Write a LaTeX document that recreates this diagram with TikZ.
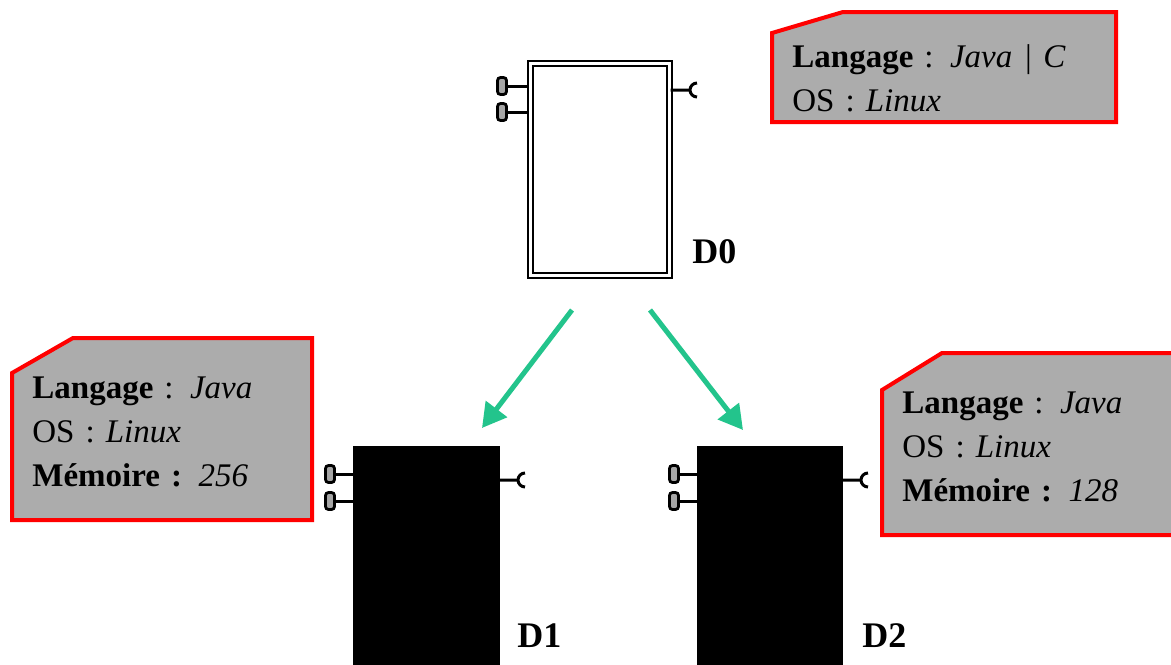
\documentclass[tikz,border=0pt]{standalone}
\usepackage{fontspec}
\setmainfont{Liberation Serif}
\usepackage{tikz}
\usetikzlibrary{arrows.meta}
\definecolor{flowgreen}{RGB}{35,196,140}
\definecolor{notegray}{RGB}{172,172,172}

\begin{document}
\begin{tikzpicture}[x=0.5pt, y=-0.5pt,
        comp/.style={draw, fill=black, line width=0.6pt, inner sep=0pt,
                     minimum width=72.5pt, minimum height=126.5pt},
        comp0/.style={draw, double=white, double distance=1.2pt, line width=1.2pt,
                      inner sep=0pt, minimum width=69.5pt, minimum height=106pt},
        plug/.style={draw, fill=gray!70, line width=1.4pt, rounded corners=1.5pt,
                     inner sep=0pt, minimum width=4.5pt, minimum height=8.5pt},
        port/.style={line width=1.5pt},
        flow/.style={draw=flowgreen, line width=2.5pt,
                     -{Triangle[length=12pt, width=13pt]}},
        note/.style={draw=red, fill=notegray, line width=2pt, line join=miter},
        info/.style={inner sep=0pt, text width=150pt, align=left,
                     font=\fontsize{16.5}{22}\selectfont},
        dlabel/.style={inner sep=0pt, anchor=base west,
                       font=\fontsize{18}{20}\selectfont\bfseries}
                            ]
        \useasboundingbox (0,0) rectangle (1171,664);
        % notes
        \draw[note] (772,33) -- (843,12) -- (1116,12) -- (1116,122) -- (772,122) -- cycle;
        \node[info, anchor=base west] (n0) at (792,67)
            {\textbf{Langage} : \textit{Java | C}\\OS : \textit{Linux}};
        \draw[note] (12,373) -- (73,338) -- (312,338) -- (312,520) -- (12,520) -- cycle;
        \node[info, anchor=base west] (n1) at (32,398)
            {\textbf{Langage} : \textit{Java}\\OS : \textit{Linux}\\\textbf{Mémoire :} \textit{256}};
        \draw[note] (882,390) -- (942,353) -- (1185,353) -- (1185,535) -- (882,535) -- cycle;
        \node[info, anchor=base west] (n2) at (902,413)
            {\textbf{Langage} : \textit{Java}\\OS : \textit{Linux}\\\textbf{Mémoire :} \textit{128}};
        % D0
        \node[comp0] (d0) at (600,169.5) {};
        \node[plug] (d0p1) at (502,86) {};
        \node[plug] (d0p2) at (502,112) {};
        \coordinate (d0s) at (690,90);
        \draw[port] (d0p1) -- (d0p1 -| d0.west);
        \draw[port] (d0p2) -- (d0p2 -| d0.west);
        \draw[port] (d0.east |- d0s) -- (d0s) ++(7,7) arc (90:270:7);
        \node[dlabel] (l0) at (692,263) {D0};
        % D1
        \node[comp] (d1) at (426.5,573.5) {};
        \node[plug] (d1p1) at (330,474) {};
        \node[plug] (d1p2) at (330,501) {};
        \coordinate (d1s) at (518,480);
        \draw[port] (d1p1) -- (d1p1 -| d1.west);
        \draw[port] (d1p2) -- (d1p2 -| d1.west);
        \draw[port] (d1.east |- d1s) -- (d1s) ++(7,7) arc (90:270:7);
        \node[dlabel] (l1) at (517,647) {D1};
        % D2
        \node[comp] (d2) at (770,573.5) {};
        \node[plug] (d2p1) at (674,474) {};
        \node[plug] (d2p2) at (674,501) {};
        \coordinate (d2s) at (861,480);
        \draw[port] (d2p1) -- (d2p1 -| d2.west);
        \draw[port] (d2p2) -- (d2p2 -| d2.west);
        \draw[port] (d2.east |- d2s) -- (d2s) ++(7,7) arc (90:270:7);
        \node[dlabel] (l2) at (862,647) {D2};
        % arrows
        \coordinate (a1) at (572,310);
        \coordinate (b1) at (482,428);
        \coordinate (a2) at (650,310);
        \coordinate (b2) at (743,430);
        \draw[flow] (a1) -- (b1);
        \draw[flow] (a2) -- (b2);
\end{tikzpicture}
\end{document}
